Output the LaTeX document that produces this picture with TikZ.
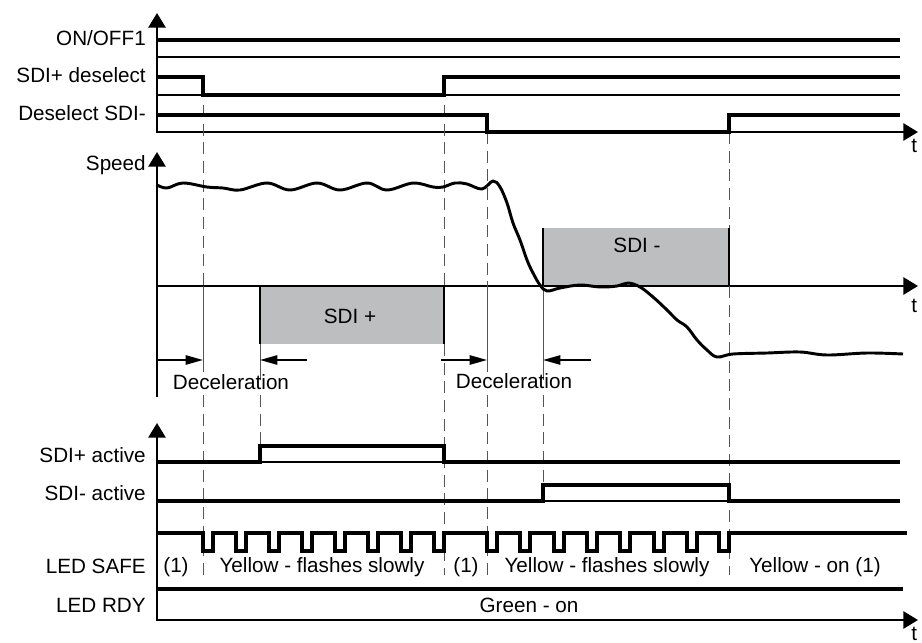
\documentclass[tikz,border=0pt]{standalone}
\usepackage{fontspec}
\setmainfont{Liberation Sans}
\usepackage{tikz}
\usetikzlibrary{arrows.meta}
\definecolor{zonegray}{RGB}{188,190,192}
\definecolor{guidegray}{RGB}{85,85,85}

\begin{document}
\begin{tikzpicture}[
  x=0.75pt, y=-0.75pt,
  every node/.style={font=\fontsize{15.5}{18}\selectfont, inner sep=0pt},
  lbl/.style={anchor=base east},
  txt/.style={anchor=base},
  sig/.style={line width=2.3pt, line join=miter},
  base/.style={line width=0.9pt},
  axis/.style={line width=1.4pt, line join=miter,
               {Triangle[length=11pt,width=13pt]}-{Triangle[length=11pt,width=13pt]}},
  guide/.style={draw=guidegray, line width=0.6pt, dash pattern=on 9pt off 5pt},
  tick/.style={draw=guidegray, line width=0.6pt},
  decel/.style={line width=1.2pt, -{Triangle[length=13pt,width=7pt]}},
  zone/.style={fill=zonegray}
]
  \useasboundingbox (0,0) rectangle (922,643);

  % axes
  \draw[axis] (157,13) -- (157,132) -- (918,132);
  \draw[axis, {Triangle[length=11pt,width=13pt]}-] (157,152) -- (157,397);
  \draw[axis, -{Triangle[length=11pt,width=13pt]}] (157,286) -- (918,286);
  \draw[axis] (157,423) -- (157,620) -- (918,620);

  % set-value windows
  \fill[zone] (260,286) rectangle (444,344);
  \fill[zone] (543,228) rectangle (729,286);
  \foreach \x in {260,444}
    \draw[base] (\x,286) -- (\x,344);
  \foreach \x in {543,729}
    \draw[base] (\x,228) -- (\x,286);
  \draw[line width=2pt] (260,286) -- (444,286);
  \draw[line width=2pt] (543,286) -- (729,286);
  \node[txt] (sdip) at (350,323) {SDI +};
  \node[txt] (sdim) at (637,252) {SDI -};

  % guides
  \draw[guide] (203,105) -- (203,286);
  \draw[tick]  (203,286) -- (203,372);
  \draw[guide] (203,395) -- (203,575);
  \draw[tick]  (260,344) -- (260,380);
  \draw[guide] (260,395) -- (260,446);
  \draw[guide] (444,105) -- (444,286);
  \draw[guide] (444,344) -- (444,575);
  \draw[guide] (487,132) -- (487,286);
  \draw[tick]  (487,286) -- (487,372);
  \draw[guide] (487,395) -- (487,575);
  \draw[tick]  (543,286) -- (543,380);
  \draw[guide] (543,395) -- (543,485);
  \draw[guide] (729,132) -- (729,228);
  \draw[guide] (729,286) -- (729,575);

  % input signals
  \draw[base] (157,57) -- (900,57);
  \draw[sig] (157,40) -- (900,40);
  \draw[base] (157,95) -- (900,95);
  \draw[sig] (157,77) -- (203,77) -- (203,95) -- (444,95) -- (444,77) -- (900,77);
  \draw[sig] (157,115) -- (487,115) -- (487,132) -- (729,132) -- (729,115) -- (900,115);

  % speed
  \draw[line width=2.2pt, line join=round] plot[smooth, tension=0.6] coordinates {
    (157,185) (167,188) (183,183) (207,187) (223,188) (240,190) (267,183)
    (290,190) (317,183) (340,190) (367,183) (387,190) (413,183) (433,187)
    (443,187) (455,183) (467,184) (482,189) (493,181) (500,187) (507,203)
    (513,223) (520,240) (527,260) (533,273) (540,285) (547,291) (560,288)
    (580,285) (600,287) (617,286) (628,283) (640,287) (653,297) (667,310)
    (677,320) (687,327) (697,340) (707,350) (717,357) (733,354) (767,353)
    (800,352) (827,355) (867,353) (903,354)};

  % deceleration
  \draw[decel] (157,360) -- (203,360);
  \draw[decel] (307,360) -- (260,360);
  \draw[decel] (441,360) -- (487,360);
  \draw[decel] (591,360) -- (543,360);
  \node[txt] (dec1) at (231,389) {Deceleration};
  \node[txt] (dec2) at (514,388) {Deceleration};

  % status signals
  \draw[base] (260,462) -- (444,462);
  \draw[sig] (157,462) -- (260,462) -- (260,446) -- (444,446) -- (444,462) -- (900,462);
  \draw[base] (543,501) -- (729,501);
  \draw[sig] (157,501) -- (543,501) -- (543,485) -- (729,485) -- (729,501) -- (900,501);
  \draw[sig] (157,533) foreach \s in {203,236,269,302,335,368,401,434,487,520,554,587,620,654,687,719}
    {-- (\s,533) -- (\s,551) -- ({\s+10},551) -- ({\s+10},533)} -- (907,533);
  \draw[sig] (157,589) -- (903,589);

  \node[txt] (safe1) at (176,572) {(1)};
  \node[txt] (safe2) at (322,572) {Yellow - flashes slowly};
  \node[txt] (safe3) at (466,572) {(1)};
  \node[txt] (safe4) at (607,572) {Yellow - flashes slowly};
  \node[txt] (safe5) at (815,572) {Yellow - on (1)};
  \node[txt] (rdy) at (529,612) {Green - on};

  % labels
  \node[lbl] (onoff) at (146,45) {ON/OFF1};
  \node[lbl] (sdipdes) at (146,82) {SDI+ deselect};
  \node[lbl] (sdimdes) at (146,120) {Deselect SDI-};
  \node[lbl] (speed) at (146,170) {Speed};
  \node[lbl] (sdipact) at (146,462) {SDI+ active};
  \node[lbl] (sdimact) at (146,500) {SDI- active};
  \node[lbl] (ledsafe) at (146,573) {LED SAFE};
  \node[lbl] (ledrdy) at (146,612) {LED RDY};
  \foreach \y/\n in {152/t1,312/t2,640/t3}
    \node[anchor=base west] (\n) at (911,\y) {t};
\end{tikzpicture}
\end{document}
